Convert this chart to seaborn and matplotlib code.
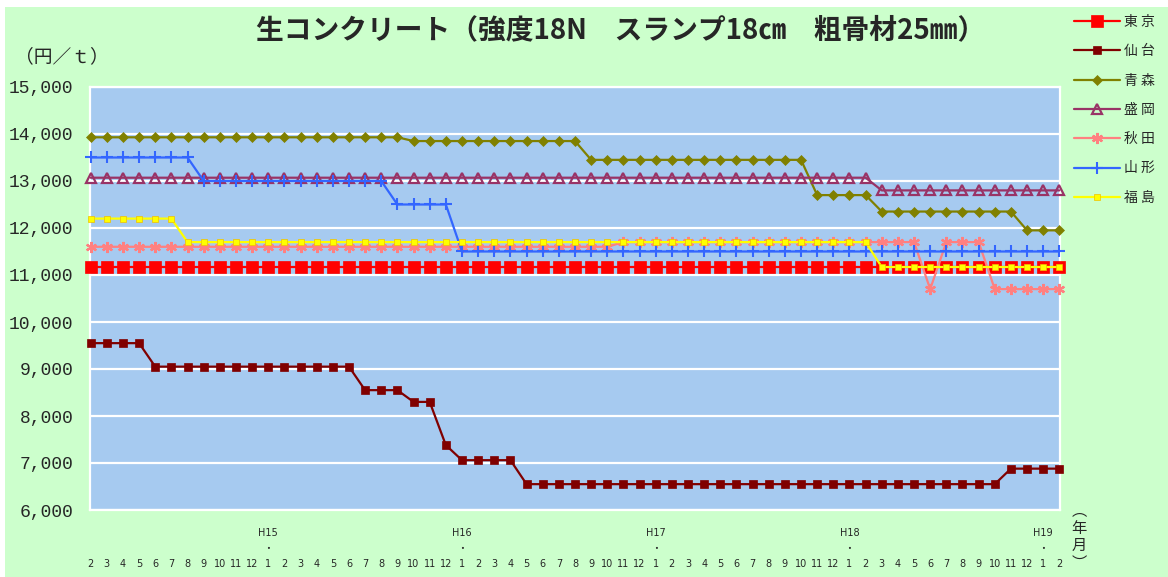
import matplotlib
matplotlib.use("Agg")
import matplotlib.pyplot as plt
from matplotlib.patches import Rectangle
from matplotlib.ticker import FuncFormatter
import seaborn as sns
import pandas as pd

# ---- data: monthly prices (円/t), H14/2 .. H19/2 ----
months = [2, 3, 4, 5, 6, 7, 8, 9, 10, 11, 12,
          1, 2, 3, 4, 5, 6, 7, 8, 9, 10, 11, 12,
          1, 2, 3, 4, 5, 6, 7, 8, 9, 10, 11, 12,
          1, 2, 3, 4, 5, 6, 7, 8, 9, 10, 11, 12,
          1, 2, 3, 4, 5, 6, 7, 8, 9, 10, 11, 12,
          1, 2]
year_labels = {11: "H15", 23: "H16", 35: "H17", 47: "H18", 59: "H19"}

tokyo = [11170, 11170, 11170, 11170, 11170, 11170, 11170, 11170, 11170, 11170, 11170,
         11170, 11170, 11170, 11170, 11170, 11170, 11170, 11170, 11170, 11170, 11170, 11170,
         11170, 11170, 11170, 11170, 11170, 11170, 11170, 11170, 11170, 11170, 11170, 11170,
         11170, 11170, 11170, 11170, 11170, 11170, 11170, 11170, 11170, 11170, 11170, 11170,
         11170, 11170, 11170, 11170, 11170, 11170, 11170, 11170, 11170, 11170, 11170, 11170,
         11170, 11170]
sendai = [9550, 9550, 9550, 9550, 9050, 9050, 9050, 9050, 9050, 9050, 9050,
          9050, 9050, 9050, 9050, 9050, 9050, 8550, 8550, 8550, 8300, 8300, 7380,
          7060, 7060, 7060, 7060, 6550, 6550, 6550, 6550, 6550, 6550, 6550, 6550,
          6550, 6550, 6550, 6550, 6550, 6550, 6550, 6550, 6550, 6550, 6550, 6550,
          6550, 6550, 6550, 6550, 6550, 6550, 6550, 6550, 6550, 6550, 6880, 6880,
          6880, 6880]
aomori = [13930, 13930, 13930, 13930, 13930, 13930, 13930, 13930, 13930, 13930, 13930,
          13930, 13930, 13930, 13930, 13930, 13930, 13930, 13930, 13930, 13850, 13850, 13850,
          13850, 13850, 13850, 13850, 13850, 13850, 13850, 13850, 13450, 13450, 13450, 13450,
          13450, 13450, 13450, 13450, 13450, 13450, 13450, 13450, 13450, 13450, 12700, 12700,
          12700, 12700, 12350, 12350, 12350, 12350, 12350, 12350, 12350, 12350, 12350, 11950,
          11950, 11950]
morioka = [13070, 13070, 13070, 13070, 13070, 13070, 13070, 13070, 13070, 13070, 13070,
           13070, 13070, 13070, 13070, 13070, 13070, 13070, 13070, 13070, 13070, 13070, 13070,
           13070, 13070, 13070, 13070, 13070, 13070, 13070, 13070, 13070, 13070, 13070, 13070,
           13070, 13070, 13070, 13070, 13070, 13070, 13070, 13070, 13070, 13070, 13070, 13070,
           13070, 13070, 12800, 12800, 12800, 12800, 12800, 12800, 12800, 12800, 12800, 12800,
           12800, 12800]
akita = [11600, 11600, 11600, 11600, 11600, 11600, 11600, 11600, 11600, 11600, 11600,
         11600, 11600, 11600, 11600, 11600, 11600, 11600, 11600, 11600, 11600, 11600, 11600,
         11600, 11600, 11600, 11600, 11600, 11600, 11600, 11600, 11600, 11600, 11700, 11700,
         11700, 11700, 11700, 11700, 11700, 11700, 11700, 11700, 11700, 11700, 11700, 11700,
         11700, 11700, 11700, 11700, 11700, 10700, 11700, 11700, 11700, 10700, 10700, 10700,
         10700, 10700]
yamagata = [13500, 13500, 13500, 13500, 13500, 13500, 13500, 13000, 13000, 13000, 13000,
            13000, 13000, 13000, 13000, 13000, 13000, 13000, 13000, 12500, 12500, 12500, 12500,
            11500, 11500, 11500, 11500, 11500, 11500, 11500, 11500, 11500, 11500, 11500, 11500,
            11500, 11500, 11500, 11500, 11500, 11500, 11500, 11500, 11500, 11500, 11500, 11500,
            11500, 11500, 11500, 11500, 11500, 11500, 11500, 11500, 11500, 11500, 11500, 11500,
            11500, 11500]
fukushima = [12200, 12200, 12200, 12200, 12200, 12200, 11700, 11700, 11700, 11700, 11700,
             11700, 11700, 11700, 11700, 11700, 11700, 11700, 11700, 11700, 11700, 11700, 11700,
             11700, 11700, 11700, 11700, 11700, 11700, 11700, 11700, 11700, 11700, 11700, 11700,
             11700, 11700, 11700, 11700, 11700, 11700, 11700, 11700, 11700, 11700, 11700, 11700,
             11700, 11700, 11170, 11170, 11170, 11170, 11170, 11170, 11170, 11170, 11170, 11170,
             11170, 11170]

series_names = ["東 京", "仙 台", "青 森", "盛 岡", "秋 田", "山 形", "福 島"]
series_values = [tokyo, sendai, aomori, morioka, akita, yamagata, fukushima]

title = "生コンクリート（強度18N　スランプ18㎝　粗骨材25㎜）"

# ---- styles ----
styles = [
    dict(color="#FF0000", marker="s", markersize=8.5, markerfacecolor="#FF0000", markeredgecolor="#FF0000", markeredgewidth=0.5),
    dict(color="#800000", marker="s", markersize=5.5, markerfacecolor="#800000", markeredgecolor="#800000", markeredgewidth=0.5),
    dict(color="#808000", marker="D", markersize=5.5, markerfacecolor="#808000", markeredgecolor="#808000", markeredgewidth=0.5),
    dict(color="#993366", marker="^", markersize=6.5, markerfacecolor="none", markeredgecolor="#993366", markeredgewidth=1.6),
    dict(color="#FF8080", marker=(6, 2, 0), markersize=8, markerfacecolor="#FF8080", markeredgecolor="#FF8080", markeredgewidth=1.6),
    dict(color="#3366FF", marker="+", markersize=8, markerfacecolor="#3366FF", markeredgecolor="#3366FF", markeredgewidth=1.5),
    dict(color="#FFFF00", marker="s", markersize=3.8, markerfacecolor="#FFFF00", markeredgecolor="#F0C000", markeredgewidth=0.5),
]

sns.set_style("white")
plt.rcParams["font.family"] = ["DejaVu Sans", "Noto Sans CJK JP"]

W, H = 1168, 577
fig = plt.figure(figsize=(W / 100, H / 100), dpi=100)
fig.patch.set_facecolor("white")
fig.patches.append(Rectangle((5 / W, 0), 1 - 5 / W, 1 - 7 / H, transform=fig.transFigure,
                             facecolor="#CCFFCC", edgecolor="none", zorder=-10))

ax = fig.add_axes([90 / W, 1 - 510 / H, 970 / W, 423 / H])
ax.set_facecolor("#A6CAF0")

x = list(range(len(months)))
for name, vals, st in zip(series_names, series_values, styles):
    df = pd.DataFrame({"idx": x, "price": vals})
    sns.lineplot(data=df, x="idx", y="price", ax=ax, label=name, linewidth=1.6,
                 clip_on=False, zorder=3, **st)

ax.set_xlim(-0.04, len(months) - 1 + 0.04)
ax.set_ylim(6000, 15000)
ax.set_yticks(range(6000, 15001, 1000))
ax.yaxis.set_major_formatter(FuncFormatter(lambda v, p: f"{int(v):,}"))
ax.grid(axis="y", color="white", linewidth=1.6)
ax.grid(axis="x", visible=False)
ax.set_axisbelow(True)
for sp in ax.spines.values():
    sp.set_visible(True)
    sp.set_color("white")
    sp.set_linewidth(1.6)

tick_labels = []
for i, m in enumerate(months):
    if i in year_labels:
        tick_labels.append(f"{year_labels[i]}\n・\n{m}")
    else:
        tick_labels.append(f"\n\n{m}")
ax.set_xticks(x)
ax.set_xticklabels(tick_labels, fontsize=7, linespacing=1.7,
                   family=["DejaVu Sans", "Noto Sans CJK JP"])
ax.tick_params(axis="x", direction="in", length=4, width=1, color="white", pad=13)
ax.tick_params(axis="y", length=0, pad=12, labelsize=13)
for lab in ax.get_yticklabels():
    lab.set_family("Liberation Mono")
ax.set_xlabel("")
ax.set_ylabel("")

handles, labels = ax.get_legend_handles_labels()
ax.get_legend().remove()
fig.legend(handles, labels, loc="upper left", bbox_to_anchor=(1074 / W, 1 - 15 / H),
           frameon=False, handlelength=3.3, handletextpad=0.3, labelspacing=1.1,
           borderaxespad=0, borderpad=0,
           prop={"family": "Noto Sans CJK JP", "size": 10})

fig.text(621 / W, 1 - 30 / H, title, ha="center", va="center", fontsize=20,
         fontweight="bold", family="Noto Sans CJK JP")
fig.text(15 / W, 1 - 57 / H, "（円／ｔ）", ha="left", va="center", fontsize=13.5,
         family="Noto Sans CJK JP")
fig.text(1079 / W, 1 - 537 / H, "︵\n年\n月\n︶", ha="center", va="center", fontsize=11,
         linespacing=1.05, family="Noto Sans CJK JP")

fig.savefig("out.png", dpi=100, facecolor=fig.get_facecolor())
